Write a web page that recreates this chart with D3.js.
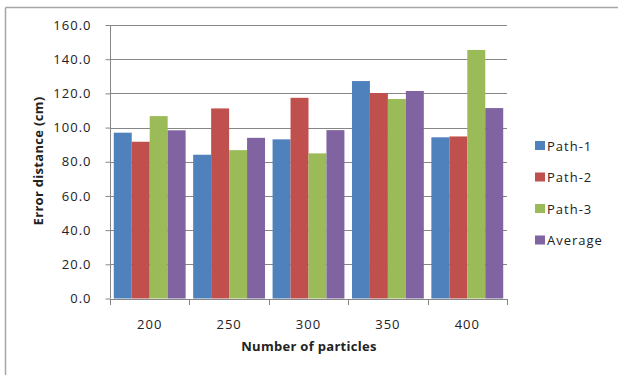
<!DOCTYPE html>
<html><head><meta charset="utf-8">
<script src="https://cdn.jsdelivr.net/npm/d3@7"></script>
<style>body{margin:0;background:#fff;} svg{display:block;}</style>
</head><body>
<script>
const categories = ["200","250","300","350","400"];
const seriesNames = ["Path-1","Path-2","Path-3","Average"];
const path1 = [97.0, 84.1, 93.1, 127.2, 94.3];
const path2 = [91.7, 111.2, 117.4, 120.2, 94.8];
const path3 = [106.7, 86.8, 84.9, 116.7, 145.4];
const average = [98.4, 94.0, 98.5, 121.4, 111.4];
const yTicks = [0,20,40,60,80,100,120,140,160];
const colors = ["#4F81BD","#C0504D","#9BBB59","#8064A2"];
const series = [path1, path2, path3, average];

(function(){
const W = 618, H = 376;
const svg = d3.select("body").append("svg").attr("width", W).attr("height", H);
const font = "'Open Sans', 'Liberation Sans', sans-serif";

// outer frame
svg.append("line").attr("x1",5.5).attr("x2",W).attr("y1",7.5).attr("y2",7.5).attr("stroke","#a6a6a6").attr("stroke-width",1.5);
svg.append("line").attr("x1",5.5).attr("x2",5.5).attr("y1",7.5).attr("y2",375).attr("stroke","#a6a6a6").attr("stroke-width",1.5);

const pLeft = 110, pRight = 507, pTop = 25, pBottom = 298.5;
const x0 = d3.scaleBand().domain(categories).range([pLeft, pRight]).paddingInner(0).paddingOuter(0);
const x1 = d3.scaleBand().domain(seriesNames).range([0, x0.bandwidth()]).paddingOuter(0.21).paddingInner(0);
const y = d3.scaleLinear().domain([0,160]).range([pBottom, pTop]);

// gridlines
svg.append("g").selectAll("line").data(yTicks.slice(1)).join("line")
  .attr("x1", pLeft).attr("x2", pRight)
  .attr("y1", d => Math.round(y(d))+0.5).attr("y2", d => Math.round(y(d))+0.5)
  .attr("stroke", "#868686").attr("stroke-width", 1);

// bars
const groups = svg.append("g").selectAll("g").data(categories).join("g")
  .attr("transform", c => `translate(${x0(c)},0)`);
groups.selectAll("rect").data((c,i) => seriesNames.map((s,j) => ({s, v: series[j][i], j})))
  .join("rect")
  .attr("x", d => x1(d.s)).attr("width", x1.bandwidth())
  .attr("y", d => y(d.v)).attr("height", d => y(0) - y(d.v))
  .attr("fill", d => colors[d.j]);

// y axis
const yAxis = d3.axisLeft(y).tickValues(yTicks).tickFormat(d3.format(".1f")).tickSize(5).tickPadding(14);
const ya = svg.append("g").attr("transform", `translate(${pLeft+0.5},0)`).call(yAxis);
ya.select(".domain").attr("stroke","#868686").attr("d", `M0,${pTop}V${pBottom}`);
ya.selectAll(".tick line").attr("stroke","#868686");
ya.selectAll("text").attr("font-family", font).attr("font-size", 13).attr("letter-spacing", "1px").attr("fill","#222");

// x axis
const xAxis = d3.axisBottom(x0).tickSize(0).tickPadding(20);
const xa = svg.append("g").attr("transform", `translate(0,${Math.round(pBottom)+0.5})`).call(xAxis);
xa.select(".domain").attr("stroke","#868686").attr("d", `M${pLeft},0H${pRight}`);
xa.selectAll("text").attr("font-family", font).attr("font-size", 13).attr("letter-spacing", "1px").attr("fill","#222");
svg.append("g").selectAll("line").data(categories.concat(["end"])).join("line")
  .attr("x1", (d,i) => Math.round(pLeft + i*x0.bandwidth())+0.5)
  .attr("x2", (d,i) => Math.round(pLeft + i*x0.bandwidth())+0.5)
  .attr("y1", Math.round(pBottom)).attr("y2", Math.round(pBottom)+6)
  .attr("stroke","#868686");

// axis titles
svg.append("text").attr("x", 309).attr("y", 351).attr("text-anchor","middle")
  .attr("font-family", font).attr("font-weight","bold").attr("font-size", 13).attr("letter-spacing", "0.3px").attr("fill","#222")
  .text("Number of particles");
svg.append("text").attr("transform","translate(43,161) rotate(-90)").attr("text-anchor","middle")
  .attr("font-family", font).attr("font-weight","bold").attr("font-size", 13).attr("letter-spacing", "0.3px").attr("fill","#222")
  .text("Error distance (cm)");

// legend
const lg = svg.append("g").selectAll("g").data(seriesNames).join("g")
  .attr("transform", (d,i) => `translate(535,${145.5 + i*31.5})`);
lg.append("rect").attr("x",0).attr("y",-4.5).attr("width",10).attr("height",9).attr("fill",(d,i)=>colors[i]);
lg.append("text").attr("x",12).attr("y",5).attr("font-family", font).attr("font-size", 13).attr("letter-spacing", "1px").attr("fill","#222").text(d=>d);
})();
</script>
</body></html>
